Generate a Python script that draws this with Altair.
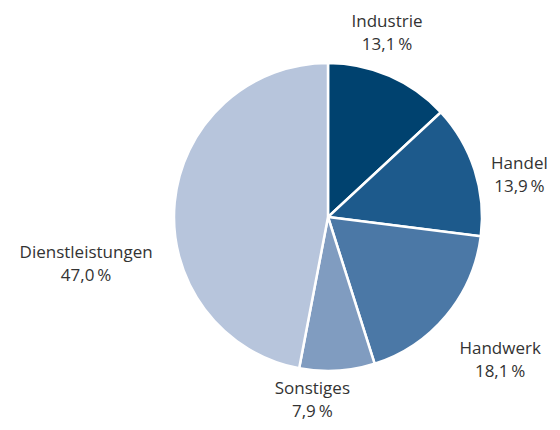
import altair as alt
import pandas as pd

categories = ["Industrie", "Handel", "Handwerk", "Sonstiges", "Dienstleistungen"]
values = [13.1, 13.9, 18.1, 7.9, 47.0]
colors = ["#00426f", "#1d5a8c", "#4b78a6", "#809cc0", "#b7c5dc"]

df = pd.DataFrame({
    "cat": categories,
    "value": values,
    "order": list(range(len(categories))),
})
df["label"] = [c + "\n" + f"{v:.1f}".replace(".", ",") + "\u2009%" for c, v in zip(categories, values)]

CX, CY = 320, 209

base = alt.Chart(df).transform_window(
    cum="sum(value)", sort=[alt.SortField("order")]
).transform_calculate(mid="datum.cum - datum.value / 2")

arc = alt.Chart(df).mark_arc(outerRadius=154, stroke="white", strokeWidth=2.5).encode(
    theta=alt.Theta("value:Q", stack=True),
    order=alt.Order("order:Q"),
    color=alt.Color("cat:N", scale=alt.Scale(domain=categories, range=colors), legend=None),
    x=alt.value(CX),
    y=alt.value(CY),
)

# label layout (radius, dx, dy) per category
layout = {
    "Industrie": (190, -17, -21),
    "Handel": (200, 1, 8),
    "Handwerk": (224, 0, -11),
    "Sonstiges": (190, -27, -18),
    "Dienstleistungen": (245, 2, 59),
}

layers = [arc]
for c in categories:
    r, dx, dy = layout[c]
    t = base.transform_filter(alt.datum.cat == c).mark_text(
        radius=r, dx=dx, dy=dy, font="Open Sans", fontSize=17, color="#333333",
        lineBreak="\n", lineHeight=23, align="center", baseline="middle",
    ).encode(
        theta=alt.Theta("mid:Q", scale=alt.Scale(domain=[0, 100], range=[0, 6.283185307179586]), stack=None),
        text="label:N",
        x=alt.value(CX),
        y=alt.value(CY),
    )
    layers.append(t)

chart = alt.layer(*layers).properties(
    width=544, height=414, padding=0, autosize=alt.AutoSizeParams(type="none")
).configure_view(stroke=None)

chart.save("out.html", embed_options={"renderer": "svg", "actions": False})
